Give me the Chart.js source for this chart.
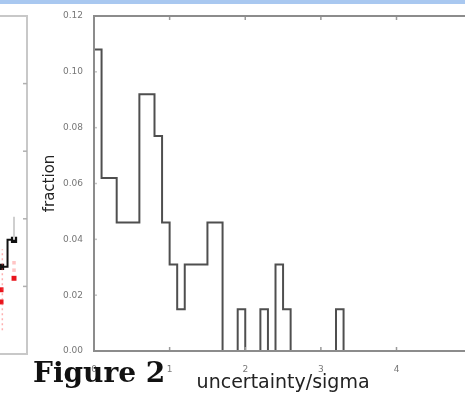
<!DOCTYPE html>
<html>
<head>
<meta charset="utf-8">
<script src="https://cdn.jsdelivr.net/npm/chart.js@4"></script>
<style>
  html, body { margin: 0; padding: 0; width: 465px; height: 397px; overflow: hidden; background: #fff; }
  #topBar { position: absolute; left: 0; top: 0; width: 465px; height: 4px; background: #a9c8f0; }
  #sideChart { position: absolute; left: -20px; top: 0; }
  #mainChart { position: absolute; left: 0; top: 0; }
  #caption { position: absolute; left: 33px; top: 359px; font: bold 28px "DejaVu Serif"; line-height: 28px; color: #111; white-space: nowrap; }
</style>
</head>
<body>
<div id="topBar"></div>
<canvas id="sideChart" width="50" height="397"></canvas>
<canvas id="mainChart" width="480" height="397"></canvas>
<div id="caption">Figure 2</div>
<script>
// histogram: left bin edges and fraction per bin
const binEdges = [0.0, 0.1, 0.2, 0.3, 0.4, 0.5, 0.6, 0.7, 0.8, 0.9, 1.0, 1.1, 1.2, 1.3, 1.4, 1.5, 1.6,
                  1.7, 1.8, 1.9, 2.0, 2.1, 2.2, 2.3, 2.4, 2.5, 2.6, 2.7, 2.8, 2.9, 3.0, 3.1, 3.2];
const fractions = [0.108, 0.062, 0.062, 0.046, 0.046, 0.046, 0.092, 0.092, 0.077, 0.046, 0.031, 0.015, 0.031, 0.031, 0.031, 0.046, 0.046,
                   0, 0, 0.015, 0, 0, 0.015, 0, 0.031, 0.015, 0, 0, 0, 0, 0, 0, 0.015];
const lastEdge = 3.3;
const xTickLabels = ['0', '1', '2', '3', '4', '5'];
const yTickLabels = ['0.00', '0.02', '0.04', '0.06', '0.08', '0.10', '0.12'];

// cut-off neighbouring panel on the left
const sideBlackX = [3, 4];
const sideBlackY = [1.29, 1.69];
const sideRedX = [3, 3, 4];
const sideRedY = [0.95, 0.77, 1.12];
const sidePinkX = [4, 4];
const sidePinkY = [1.35, 1.24];
const sideGreyBar = [1.69, 2.03];   // error bar above black point at x=4
const sidePinkBar = [0.35, 1.55];   // dotted error bar near x=3
const sideTicks = [0, 1, 2, 3, 4, 5];

// stepped 'before': each segment keeps the value of its left edge
const histPoints = [{ x: binEdges[0], y: 0 }];
binEdges.forEach((x, i) => histPoints.push({ x: x, y: fractions[i] }));
histPoints.push({ x: lastEdge, y: 0 });

const frameMain = {
    id: 'frameMain',
    afterDatasetsDraw(chart) {
        const { ctx, chartArea: a, scales } = chart;
        ctx.save();
        ctx.strokeStyle = '#9a9a9a';
        ctx.lineWidth = 1.5;
        scales.x.ticks.forEach(t => {
            if (t.value <= scales.x.min || t.value >= scales.x.max) return;
            const px = scales.x.getPixelForValue(t.value);
            ctx.beginPath();
            ctx.moveTo(px, a.bottom); ctx.lineTo(px, a.bottom - 4);
            ctx.moveTo(px, a.top); ctx.lineTo(px, a.top + 4);
            ctx.stroke();
        });
        ctx.strokeStyle = '#c4c4c4';
        scales.y.ticks.forEach(t => {
            if (t.value <= scales.y.min || t.value >= scales.y.max) return;
            const py = scales.y.getPixelForValue(t.value);
            ctx.beginPath();
            ctx.moveTo(a.left, py); ctx.lineTo(a.left + 3, py);
            ctx.stroke();
        });
        // axes box
        ctx.strokeStyle = '#8c8c8c';
        ctx.lineWidth = 2;
        ctx.strokeRect(a.left, a.top, a.right - a.left, a.bottom - a.top);
        ctx.restore();
    }
};

new Chart(document.getElementById('mainChart').getContext('2d'), {
    type: 'line',
    data: {
        datasets: [{
            data: histPoints,
            stepped: 'before',
            borderColor: '#4f4f4f',
            borderWidth: 2,
            pointRadius: 0,
            fill: false
        }]
    },
    options: {
        responsive: false,
        animation: false,
        layout: { autoPadding: false, padding: { left: 40, top: 16, right: 4, bottom: 0 } },
        plugins: { legend: { display: false }, tooltip: { enabled: false } },
        scales: {
            x: {
                type: 'linear',
                min: 0,
                max: 5,
                grid: { display: false },
                border: { display: false },
                ticks: {
                    stepSize: 1,
                    padding: 5,
                    color: '#777',
                    font: { family: 'DejaVu Sans', size: 9 },
                    callback: (v, i) => xTickLabels[i]
                },
                title: {
                    display: true,
                    text: 'uncertainty/sigma',
                    color: '#222',
                    font: { family: 'DejaVu Sans', size: 19 },
                    padding: { top: 0, bottom: 3 }
                },
                afterFit: s => { s.height = 46; }
            },
            y: {
                min: 0,
                max: 0.12,
                grid: { display: false },
                border: { display: false },
                ticks: {
                    stepSize: 0.02,
                    padding: 3,
                    color: '#777',
                    font: { family: 'DejaVu Sans', size: 9 },
                    callback: (v, i) => yTickLabels[i]
                },
                title: {
                    display: true,
                    text: 'fraction',
                    color: '#222',
                    font: { family: 'DejaVu Sans', size: 15 },
                    padding: { top: 1, bottom: 0 }
                },
                afterFit: s => { s.width = 54; }
            }
        }
    },
    plugins: [frameMain]
});

const frameSide = {
    id: 'frameSide',
    beforeDatasetsDraw(chart) {
        const { ctx, chartArea: a, scales } = chart;
        ctx.save();
        ctx.strokeStyle = '#c8c8c8';
        ctx.lineWidth = 2;
        // only top, right and bottom edges show; the left part of this panel is cut off
        ctx.beginPath();
        ctx.moveTo(0, a.top); ctx.lineTo(a.right, a.top);
        ctx.lineTo(a.right, a.bottom); ctx.lineTo(0, a.bottom);
        ctx.stroke();
        ctx.lineWidth = 1.5;
        ctx.strokeStyle = '#b0b0b0';
        sideTicks.forEach(v => {
            if (v <= scales.y.min || v >= scales.y.max) return;
            const py = scales.y.getPixelForValue(v);
            ctx.beginPath();
            ctx.moveTo(a.right, py); ctx.lineTo(a.right - 4, py);
            ctx.stroke();
        });
        ctx.restore();
    }
};

new Chart(document.getElementById('sideChart').getContext('2d'), {
    type: 'scatter',
    data: {
        datasets: [
            {
                data: [{ x: 4, y: sideGreyBar[0] }, { x: 4, y: sideGreyBar[1] }],
                showLine: true, borderColor: '#cfcfcf', borderWidth: 2, pointRadius: 0
            },
            {
                data: [{ x: 3.1, y: sidePinkBar[0] }, { x: 3.1, y: sidePinkBar[1] }],
                showLine: true, borderColor: 'rgba(255,80,80,0.45)', borderWidth: 1.5, borderDash: [2, 3], pointRadius: 0
            },
            {
                data: sidePinkX.map((x, i) => ({ x: x, y: sidePinkY[i] })),
                pointStyle: 'rect', pointRadius: 2.5, backgroundColor: 'rgba(255,90,90,0.35)', borderWidth: 0
            },
            {
                data: sideRedX.map((x, i) => ({ x: x, y: sideRedY[i] })),
                pointStyle: 'rect', pointRadius: 3.5, backgroundColor: '#e8141c', borderWidth: 0
            },
            {
                data: sideBlackX.map((x, i) => ({ x: x, y: sideBlackY[i] })),
                showLine: true, stepped: 'middle', borderColor: '#111', borderWidth: 2,
                pointStyle: 'rect', pointRadius: 3, backgroundColor: '#111'
            }
        ]
    },
    options: {
        responsive: false,
        animation: false,
        layout: { autoPadding: false, padding: { left: 10, top: 16, right: 3, bottom: 43 } },
        plugins: { legend: { display: false }, tooltip: { enabled: false } },
        scales: {
            x: { type: 'linear', min: 2.15, max: 5.0, display: false },
            y: { min: 0, max: 5, display: false }
        }
    },
    plugins: [frameSide]
});
</script>
</body>
</html>
